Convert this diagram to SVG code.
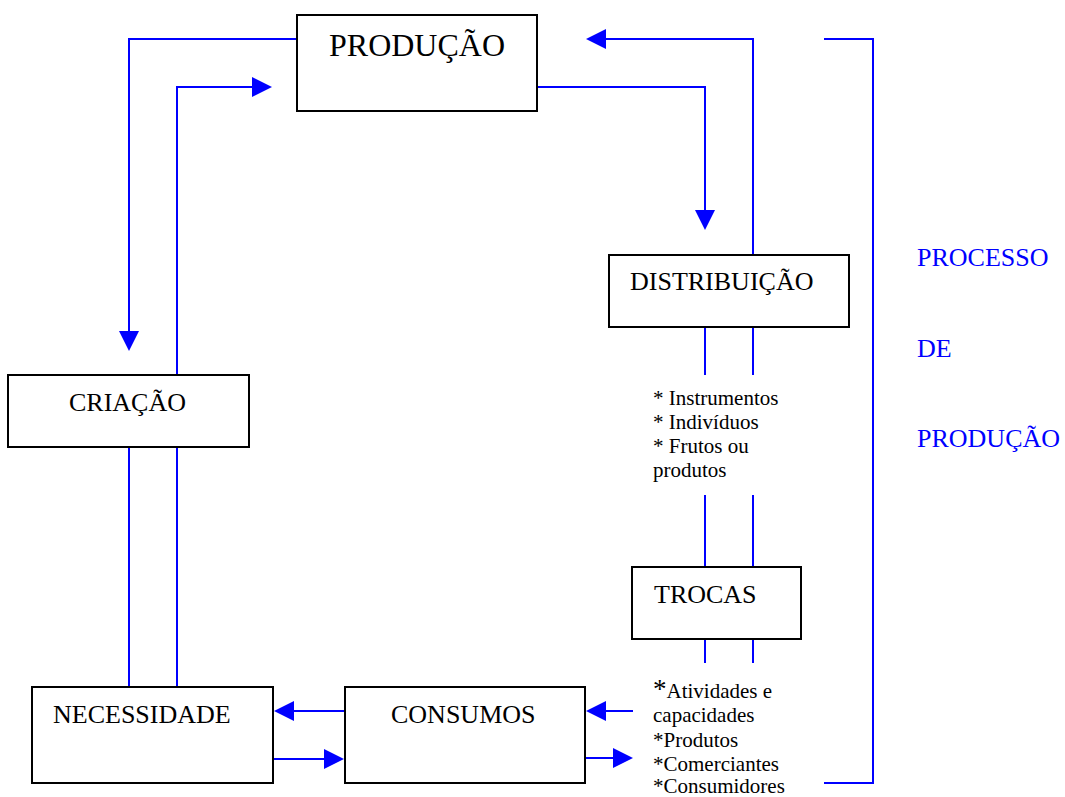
<svg xmlns="http://www.w3.org/2000/svg" width="1065" height="797" viewBox="0 0 1065 797">
<style>
.box{fill:#fff;stroke:#000;stroke-width:2}
.lbl{font-family:"Liberation Serif","Times New Roman",serif;font-size:26px;fill:#000}
.big{font-size:32px}
.sm{font-family:"Liberation Serif","Times New Roman",serif;font-size:21px;fill:#000}
.blue{font-family:"Liberation Serif","Times New Roman",serif;font-size:26px;fill:#0000ff}
.ln{fill:none;stroke:#0000ff;stroke-width:2}
.ah{fill:#0000ff}
</style>
<rect width="1065" height="797" fill="#fff"/>
<g id="connectors">
<polyline class="ln" points="297,39 129,39 129,332"/>
<polygon class="ah" points="119,331 139,331 129,351"/>
<polyline class="ln" points="177,375 177,87 254,87"/>
<polygon class="ah" points="252,77 252,97 272,87"/>
<polyline class="ln" points="537,87 705,87 705,212"/>
<polygon class="ah" points="695,210 715,210 705,230"/>
<polyline class="ln" points="753,255 753,39 604,39"/>
<polygon class="ah" points="606,29 606,49 586,39"/>
<line class="ln" x1="129" y1="447" x2="129" y2="687"/>
<line class="ln" x1="177" y1="447" x2="177" y2="687"/>
<line class="ln" x1="705" y1="327" x2="705" y2="375"/>
<line class="ln" x1="753" y1="327" x2="753" y2="375"/>
<line class="ln" x1="705" y1="495" x2="705" y2="567"/>
<line class="ln" x1="753" y1="495" x2="753" y2="567"/>
<line class="ln" x1="705" y1="639" x2="705" y2="663"/>
<line class="ln" x1="753" y1="639" x2="753" y2="663"/>
<line class="ln" x1="345" y1="711" x2="292" y2="711"/>
<polygon class="ah" points="294,701 294,721 274,711"/>
<line class="ln" x1="273" y1="759" x2="326" y2="759"/>
<polygon class="ah" points="324,749 324,769 344,759"/>
<line class="ln" x1="633" y1="711" x2="604" y2="711"/>
<polygon class="ah" points="606,701 606,721 586,711"/>
<line class="ln" x1="585" y1="758" x2="615" y2="758"/>
<polygon class="ah" points="613,748 613,768 633,758"/>
<polyline class="ln" points="824,39 873,39 873,783 824,783"/>
</g>
<g id="producao">
<rect class="box" x="297" y="15" width="240" height="96"/>
<text class="lbl big" x="329" y="56">PRODUÇÃO</text>
</g>
<g id="criacao">
<rect class="box" x="8" y="375" width="241" height="72"/>
<text class="lbl" x="69" y="411">CRIAÇÃO</text>
</g>
<g id="necessidade">
<rect class="box" x="32" y="687" width="241" height="96"/>
<text class="lbl" x="53" y="723">NECESSIDADE</text>
</g>
<g id="consumos">
<rect class="box" x="345" y="687" width="240" height="96"/>
<text class="lbl" x="391" y="723">CONSUMOS</text>
</g>
<g id="distribuicao">
<rect class="box" x="609" y="255" width="240" height="72"/>
<text class="lbl" x="630" y="290">DISTRIBUIÇÃO</text>
</g>
<g id="trocas">
<rect class="box" x="632" y="567" width="169" height="72"/>
<text class="lbl" x="654" y="603">TROCAS</text>
</g>
<g id="itens-distribuicao">
<text class="sm" x="653" y="405">* Instrumentos</text>
<text class="sm" x="653" y="429">* Indivíduos</text>
<text class="sm" x="653" y="453">* Frutos ou</text>
<text class="sm" x="653" y="477">produtos</text>
</g>
<g id="itens-trocas">
<text class="sm" x="653" y="698"><tspan font-size="27">*</tspan>Atividades e</text>
<text class="sm" x="653" y="722">capacidades</text>
<text class="sm" x="653" y="747">*Produtos</text>
<text class="sm" x="653" y="771">*Comerciantes</text>
<text class="sm" x="653" y="793">*Consumidores</text>
</g>
<g id="processo">
<text class="blue" x="917" y="266">PROCESSO</text>
<text class="blue" x="917" y="357">DE</text>
<text class="blue" x="917" y="447">PRODUÇÃO</text>
</g>
</svg>
